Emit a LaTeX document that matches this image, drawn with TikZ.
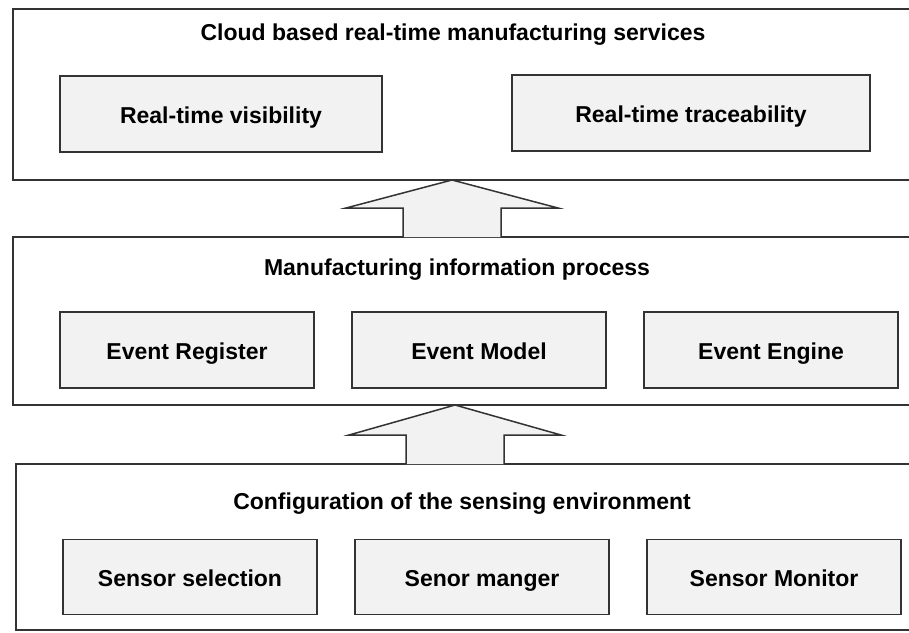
\documentclass[tikz,border=0pt]{standalone}
\usepackage{fontspec}
\setmainfont{Liberation Sans}
\usetikzlibrary{positioning}
\usetikzlibrary{calc}
\tikzset{node distance=292pt,
    layer/.style={
        draw=black!80,
        line width=1.5pt,
        anchor=north west,
        outer sep=0pt,
        minimum width=910pt},
    part/.style={
        draw=black!80,
        line width=1.5pt,
        fill=gray!10,
        minimum width=254pt,
        minimum height=76pt,
        text height=21pt,
        text depth=2.4pt,
        font=\bfseries\fontsize{23}{27}\selectfont},
    heading/.style={
        text height=21pt,
        text depth=2.4pt,
        font=\bfseries\fontsize{23}{27}\selectfont},
    blockarrow/.style={
        draw=black!80,
        line width=1.5pt,
        fill=gray!10}}
% hollow arrow from the top of a lower layer (#1) up to the upper layer (#2)
\newcommand{\layerarrow}[2]{%
    \draw[blockarrow] ($(#1)+(-49,0)$) -- ($(#1)+(-49,-29)$) -- ($(#1)+(-106,-29)$)
        -- (#2) -- ($(#1)+(106,-29)$) -- ($(#1)+(49,-29)$) -- ($(#1)+(49,0)$);}
\begin{document}
\begin{tikzpicture}[x=1pt,y=-1pt]
        \useasboundingbox (0,0) rectangle (909,632);
        \clip (0,0) rectangle (909,632);

        % layers
        \node[layer,minimum height=171pt] (cloud) at (13,9) {};
        \node[layer,minimum height=168pt] (mip) at (13,237) {};
        \node[layer,minimum height=166pt] (sense) at (16,464) {};

        \node[heading] (cloudtitle) at (453,31) {Cloud based real-time manufacturing services};
        \node[heading] (miptitle) at (457,266) {Manufacturing information process};
        \node[heading] (sensetitle) at (462,500) {Configuration of the sensing environment};

        % services
        \node[part,minimum width=322pt] (vis) at (221,114) {Real-time visibility};
        \node[part,minimum width=358pt] (trace) at (691,113) {Real-time traceability};

        % information process
        \node[part] (reg) at (187,350) {Event Register};
        \node[part,right of=reg] (model) {Event Model};
        \node[part,right of=model] (engine) {Event Engine};

        % sensing environment
        \node[part,minimum height=75pt] (sel) at (190,577) {Sensor selection};
        \node[part,minimum height=75pt,right of=sel] (mgr) {Senor manger};
        \node[part,minimum height=75pt,right of=mgr] (mon) {Sensor Monitor};

        \coordinate (upper) at (452,0);
        \coordinate (lower) at (455,0);
        \layerarrow{mip.north -| upper}{cloud.south -| upper}
        \layerarrow{sense.north -| lower}{mip.south -| lower}
    \end{tikzpicture}
\end{document}
